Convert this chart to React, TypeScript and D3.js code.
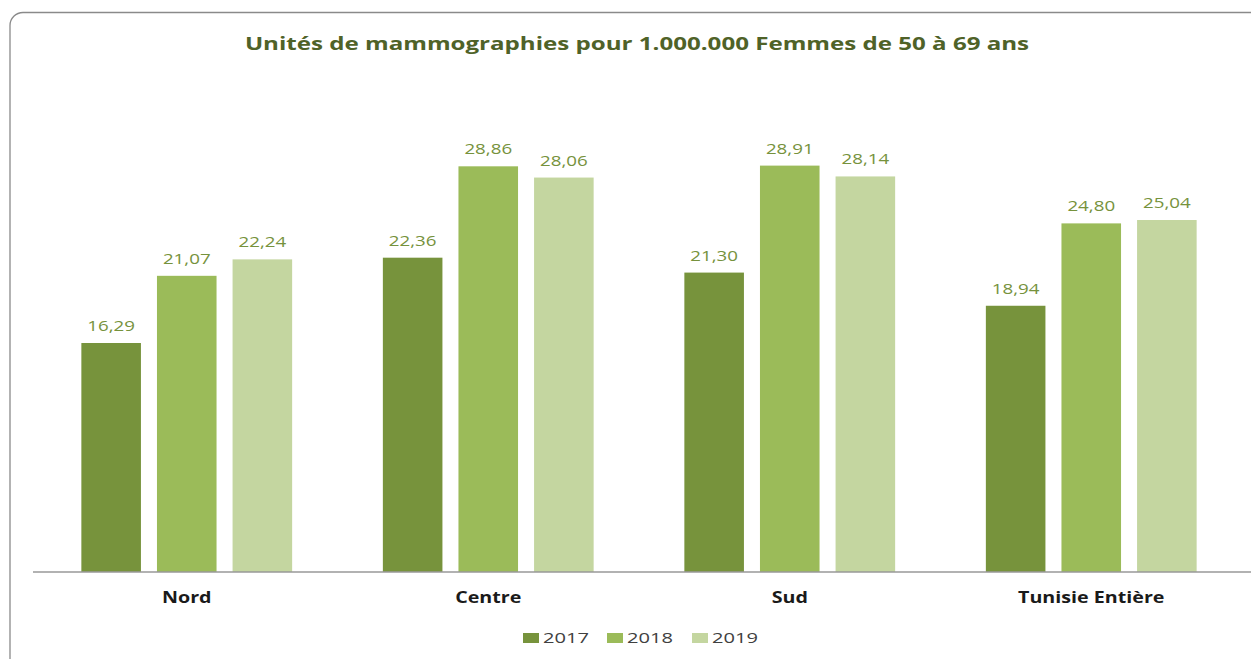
import React from 'react'
import * as d3 from 'd3'

const categories = ['Nord', 'Centre', 'Sud', 'Tunisie Entière']
const years = ['2017', '2018', '2019']
const values2017 = [16.29, 22.36, 21.3, 18.94]
const values2018 = [21.07, 28.86, 28.91, 24.8]
const values2019 = [22.24, 28.06, 28.14, 25.04]
const title = 'Unités de mammographies pour 1.000.000 Femmes de 50 à 69 ans'

const colors = ['#77933c', '#9bbb59', '#c4d6a0']

// the source picture is stretched sideways, so text gets widened too
const sx = 1.34

const App = () => {
	const width = 1251,
		height = 659

	const series = [values2017, values2018, values2019]

	const x0 = d3.scaleBand().domain(categories).range([36, 1242])
	const x1 = d3
		.scaleBand()
		.domain(years)
		.range([0, x0.bandwidth()])
		.paddingInner(0.212)
		.paddingOuter(0.6)
	const y = d3.scaleLinear().domain([0, 35]).range([572, 80])

	const fmt = (v: number) => d3.format('.2f')(v).replace('.', ',')

	const font = '"Open Sans", "Noto Sans", sans-serif'

	// legend swatch / label x positions
	const legendX = [523, 607, 692]

	return (
		<svg
			width={width}
			height={height}
			style={{ position: 'absolute', left: 0, top: 0, background: '#fff' }}
		>
			<rect x={10} y={12.5} width={1270} height={680} rx={13} fill="#fff" stroke="#8a8a8a" strokeWidth={1.3} />
			<text
				transform={`translate(637,50) scale(${sx},1)`}
				textAnchor="middle"
				fontFamily={font}
				fontWeight="bold"
				fontSize={18}
				fill="#4f6228"
			>
				{title}
			</text>

			{categories.map((c, ci) => (
				<g key={c} transform={`translate(${x0(c)},0)`}>
					{years.map((yr, si) => {
						const v = series[si][ci]
						const bx = x1(yr)!
						return (
							<g key={yr}>
								<rect
									x={bx}
									y={y(v)}
									width={x1.bandwidth()}
									height={y(0) - y(v)}
									fill={colors[si]}
								/>
								<text
									transform={`translate(${bx + x1.bandwidth() / 2},${y(v) - 12}) scale(${sx},1)`}
									textAnchor="middle"
									fontFamily={font}
									fontSize={14}
									fill="#76923c"
								>
									{fmt(v)}
								</text>
							</g>
						)
					})}
					<text
						transform={`translate(${x0.bandwidth() / 2},603) scale(1.27,1)`}
						textAnchor="middle"
						fontFamily={font}
						fontWeight="bold"
						fontSize={15.5}
						fill="#1a1a1a"
					>
						{c}
					</text>
				</g>
			))}

			<line x1={33} x2={1251} y1={572} y2={572} stroke="#999" strokeWidth={1.5} />

			{years.map((yr, i) => (
				<g key={yr} transform={`translate(${legendX[i]},643)`}>
					<rect x={0} y={-10} width={16} height={10} fill={colors[i]} />
					<text
						transform={`translate(20,0) scale(${sx},1)`}
						fontFamily={font}
						fontSize={15}
						fill="#404040"
					>
						{yr}
					</text>
				</g>
			))}
		</svg>
	)
}

export default App
